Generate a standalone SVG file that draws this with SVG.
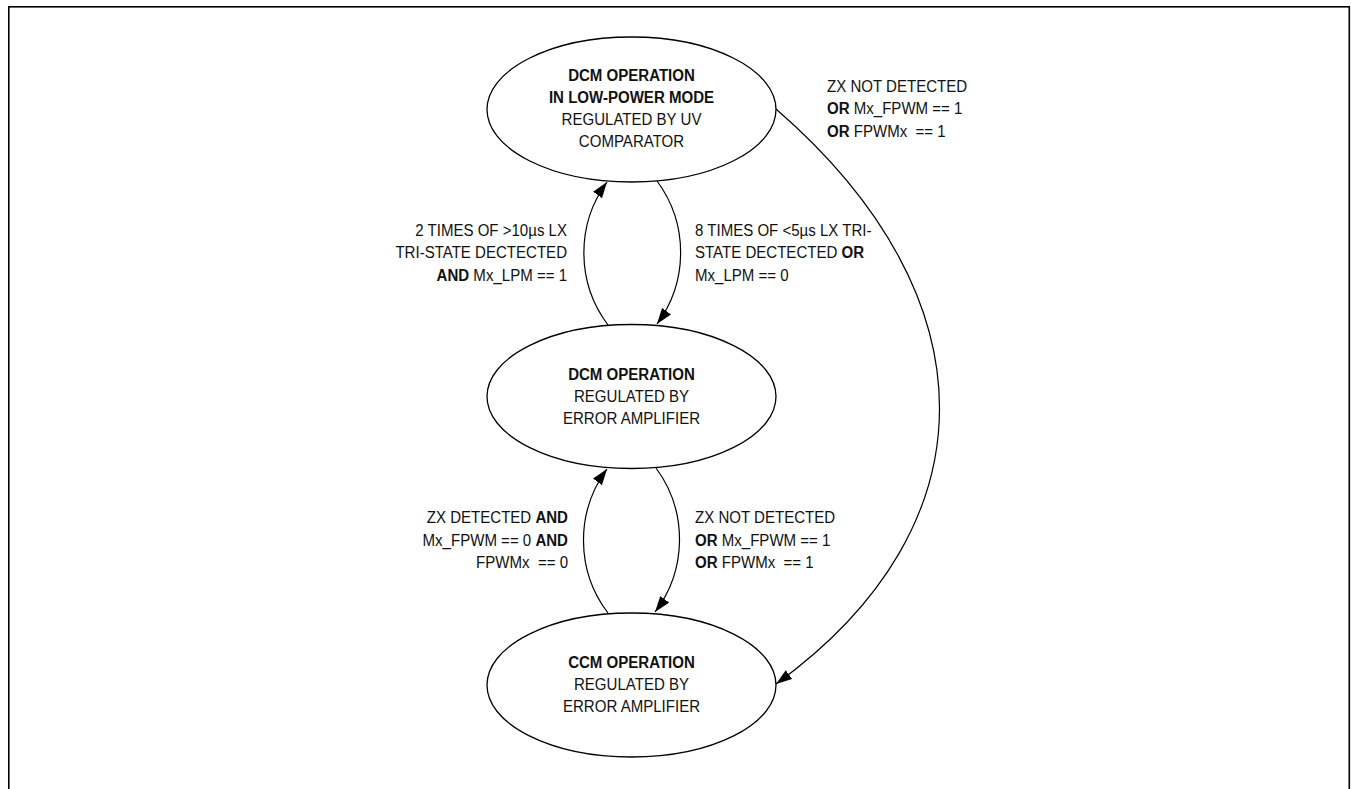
<svg xmlns="http://www.w3.org/2000/svg" width="1351" height="789" viewBox="0 0 1351 789">
  <defs>
    <style>
      .frame { fill: none; stroke: #000; stroke-width: 1.6; }
      .state { fill: #fff; stroke: #000; stroke-width: 1.3; }
      .edge { fill: none; stroke: #000; stroke-width: 1.2; }
      text { font-family: "Liberation Sans", Arial, Helvetica, sans-serif; font-size: 17px; fill: #111; }
      .c { text-anchor: middle; }
      .r { text-anchor: end; }
      .l { text-anchor: start; }
      .b { font-weight: bold; }
    </style>
    <marker id="arrow" markerUnits="userSpaceOnUse" markerWidth="17" markerHeight="12" refX="16" refY="5.5" orient="auto">
      <path d="M0,0 L16,5.5 L0,11 z" fill="#000"/>
    </marker>
  </defs>

  <rect class="frame" x="8.8" y="6.8" width="1340.5" height="800"/>

  <!-- transitions -->
  <g id="connectors">
    <!-- low-power DCM <-> DCM -->
    <path class="edge" d="M608,325 A120,120 0 0 1 607,182" marker-end="url(#arrow)"/>
    <path class="edge" d="M657,181 A120,120 0 0 1 657,324" marker-end="url(#arrow)"/>
    <!-- DCM <-> CCM -->
    <path class="edge" d="M608,613 A120,120 0 0 1 607,469" marker-end="url(#arrow)"/>
    <path class="edge" d="M656,468 A120,120 0 0 1 655,612" marker-end="url(#arrow)"/>
    <!-- low-power DCM -> CCM -->
    <path class="edge" d="M776,109 C994,298 994,526 776,684" marker-end="url(#arrow)"/>
  </g>

  <!-- transition labels -->
  <g id="labels">
    <text class="r" transform="translate(567,235.5) scale(0.885,1)">2 TIMES OF &gt;10µs LX</text>
    <text class="r" transform="translate(567,258) scale(0.885,1)">TRI-STATE DECTECTED</text>
    <text class="r" transform="translate(567,280.5) scale(0.885,1)"><tspan class="b">AND</tspan> Mx_LPM == 1</text>

    <text class="l" transform="translate(695,235.5) scale(0.885,1)">8 TIMES OF &lt;5µs LX TRI-</text>
    <text class="l" transform="translate(695,258) scale(0.885,1)">STATE DECTECTED <tspan class="b">OR</tspan></text>
    <text class="l" transform="translate(695,280.5) scale(0.885,1)">Mx_LPM == 0</text>

    <text class="r" transform="translate(568,523) scale(0.885,1)">ZX DETECTED <tspan class="b">AND</tspan></text>
    <text class="r" transform="translate(568,545.5) scale(0.885,1)">Mx_FPWM == 0 <tspan class="b">AND</tspan></text>
    <text class="r" xml:space="preserve" transform="translate(568,568) scale(0.885,1)">FPWMx  == 0</text>

    <text class="l" transform="translate(695,523) scale(0.885,1)">ZX NOT DETECTED</text>
    <text class="l" transform="translate(695,545.5) scale(0.885,1)"><tspan class="b">OR</tspan> Mx_FPWM == 1</text>
    <text class="l" xml:space="preserve" transform="translate(695,568) scale(0.885,1)"><tspan class="b">OR</tspan> FPWMx  == 1</text>

    <text class="l" transform="translate(827,92) scale(0.885,1)">ZX NOT DETECTED</text>
    <text class="l" transform="translate(827,114) scale(0.885,1)"><tspan class="b">OR</tspan> Mx_FPWM == 1</text>
    <text class="l" xml:space="preserve" transform="translate(827,136.5) scale(0.885,1)"><tspan class="b">OR</tspan> FPWMx  == 1</text>
  </g>

  <!-- states -->
  <g id="state-dcm-lpm">
    <ellipse class="state" cx="631.5" cy="109.5" rx="144.5" ry="72.5"/>
    <text class="c b" transform="translate(631.5,81) scale(0.885,1)">DCM OPERATION</text>
    <text class="c b" transform="translate(631.5,103) scale(0.885,1)">IN LOW-POWER MODE</text>
    <text class="c" transform="translate(631.5,125) scale(0.885,1)">REGULATED BY UV</text>
    <text class="c" transform="translate(631.5,147) scale(0.885,1)">COMPARATOR</text>
  </g>

  <g id="state-dcm">
    <ellipse class="state" cx="631.5" cy="396.5" rx="144.5" ry="72"/>
    <text class="c b" transform="translate(631.5,380) scale(0.885,1)">DCM OPERATION</text>
    <text class="c" transform="translate(631.5,402) scale(0.885,1)">REGULATED BY</text>
    <text class="c" transform="translate(631.5,424) scale(0.885,1)">ERROR AMPLIFIER</text>
  </g>

  <g id="state-ccm">
    <ellipse class="state" cx="631.5" cy="685" rx="144.5" ry="72"/>
    <text class="c b" transform="translate(631.5,668) scale(0.885,1)">CCM OPERATION</text>
    <text class="c" transform="translate(631.5,690) scale(0.885,1)">REGULATED BY</text>
    <text class="c" transform="translate(631.5,712) scale(0.885,1)">ERROR AMPLIFIER</text>
  </g>
</svg>
